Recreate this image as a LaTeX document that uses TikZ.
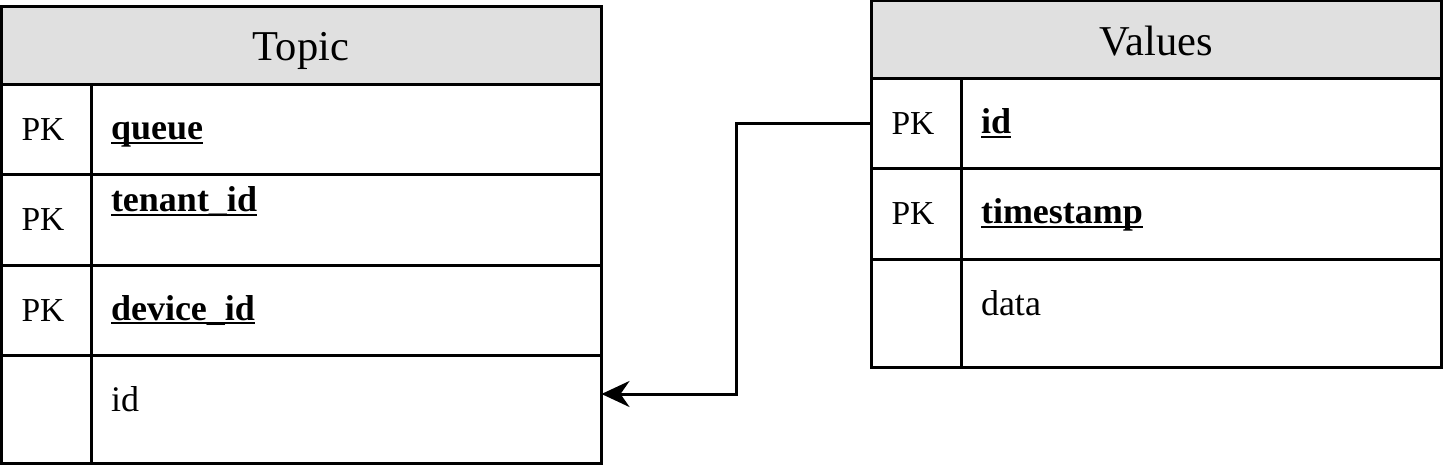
\documentclass[tikz,border=0pt]{standalone}
\usepackage{fontspec}
\setmainfont{Liberation Serif}
\usetikzlibrary{arrows.meta,positioning}
\definecolor{headgray}{HTML}{E0E0E0}
\newcommand{\keyname}[1]{\setbox0\hbox{\textbf{#1}}\rlap{\rule[-4pt]{\wd0}{2pt}}\box0}

\begin{document}
\begin{tikzpicture}[x=1pt, y=-1pt,
  every node/.style={anchor=center, inner sep=0pt, outer sep=0pt},
  box/.style={draw, line width=3pt},
  head/.style={box, fill=headgray},
  title/.style={anchor=base, font=\fontsize{42.5}{50}\selectfont},
  pk/.style={anchor=base, font=\fontsize{33.5}{40}\selectfont},
  fld/.style={anchor=base west, font=\fontsize{36}{43}\selectfont},
  conn/.style={line width=3pt, -{Stealth[length=28pt, width=26pt, inset=9pt]}},
]
\useasboundingbox (0,0) rectangle (1443,465);
% Topic table
\node[head, minimum width=600pt, minimum height=78pt] (t-head) at (301.5,46) {};
\foreach \nm/\cy/\h in {queue/130/90, tenant/220/90, device/310/90, id/409/108}
  \node[box, minimum width=600pt, minimum height=\h pt] (t-\nm) at (301.5,\cy) {};
\draw[box] (91,85) -- (91,463);
\node[title] (t-title) at (301,61) {Topic};
\foreach \nm/\by in {queue/141, tenant/231, device/321}
  \node[pk] (t-pk-\nm) at (43,\by) {PK};
\node[fld] (t-f-queue) at (111,140) {\keyname{queue}};
\node[fld] (t-f-tenant) at (111,212) {\keyname{tenant\_id}};
\node[fld] (t-f-device) at (111,320) {\keyname{device\_id}};
\node[fld] (t-f-id) at (111,411) {id};
% Values table
\node[head, minimum width=570pt, minimum height=78pt] (v-head) at (1156,40) {};
\foreach \nm/\cy/\h in {id/124/90, time/214/90, data/313/108}
  \node[box, minimum width=570pt, minimum height=\h pt] (v-\nm) at (1156,\cy) {};
\draw[box] (961,79) -- (961,367);
\node[title] (v-title) at (1156,55.5) {Values};
\foreach \nm/\by in {id/135, time/225}
  \node[pk] (v-pk-\nm) at (913,\by) {PK};
\node[fld] (v-f-id) at (981,134) {\keyname{id}};
\node[fld] (v-f-time) at (981,224) {\keyname{timestamp}};
\node[fld] (v-f-data) at (981,315) {data};
% id -> id
\draw[conn] (v-id.west) -- ++(-135,0) |- ([yshift=15pt]t-id.east);
\end{tikzpicture}
\end{document}
